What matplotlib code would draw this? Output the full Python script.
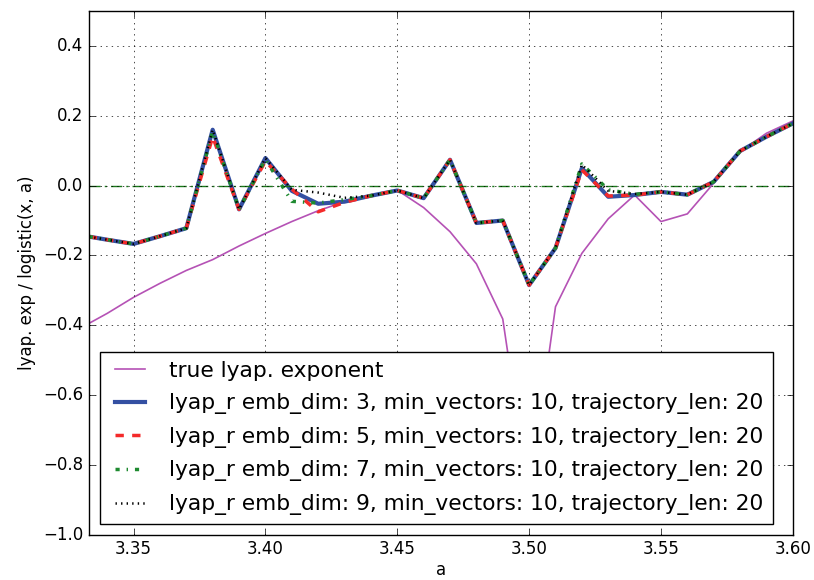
import numpy as np
from matplotlib import pyplot as plt

plt.style.use('classic')

# parameter values of the logistic map
a_vals = [3.333, 3.34, 3.35, 3.36, 3.37, 3.38, 3.39, 3.40, 3.41, 3.42, 3.43, 3.44,
          3.45, 3.46, 3.47, 3.48, 3.49, 3.50, 3.51, 3.52, 3.53, 3.54, 3.55, 3.56,
          3.57, 3.58, 3.59, 3.60]

true_lyap = [-0.395, -0.366, -0.320, -0.280, -0.243, -0.212, -0.173, -0.137, -0.103, -0.072,
             -0.046, -0.028, -0.013, -0.063, -0.132, -0.224, -0.382, -0.890, -0.347, -0.194,
             -0.095, -0.027, -0.103, -0.081, 0.007, 0.097, 0.150, 0.185]

lyap_dim3 = [-0.146, -0.155, -0.167, -0.145, -0.122, 0.160, -0.068, 0.079, -0.015, -0.052,
             -0.046, -0.029, -0.014, -0.036, 0.074, -0.107, -0.100, -0.285, -0.179, 0.050,
             -0.032, -0.027, -0.018, -0.026, 0.011, 0.099, 0.140, 0.178]

lyap_dim5 = [-0.146, -0.155, -0.167, -0.145, -0.122, 0.140, -0.068, 0.070, -0.010, -0.075,
             -0.048, -0.029, -0.014, -0.036, 0.074, -0.107, -0.100, -0.285, -0.179, 0.045,
             -0.030, -0.027, -0.018, -0.026, 0.011, 0.099, 0.140, 0.178]

lyap_dim7 = [-0.146, -0.155, -0.167, -0.145, -0.122, 0.155, -0.068, 0.075, -0.045, -0.050,
             -0.040, -0.029, -0.014, -0.036, 0.074, -0.107, -0.100, -0.285, -0.179, 0.062,
             -0.012, -0.025, -0.018, -0.026, 0.011, 0.099, 0.140, 0.178]

lyap_dim9 = [-0.146, -0.155, -0.167, -0.145, -0.122, 0.160, -0.068, 0.079, -0.012, -0.020,
             -0.035, -0.029, -0.014, -0.036, 0.074, -0.107, -0.100, -0.285, -0.179, 0.060,
             -0.015, -0.024, -0.018, -0.026, 0.011, 0.099, 0.140, 0.178]

emb_dims = [3, 5, 7, 9]
min_vectors = 10
trajectory_len = 20

fig = plt.figure(figsize=(8.14, 5.8), dpi=100, facecolor='white')
ax = fig.add_axes([0.109, 0.078, 0.865, 0.903])
ax.grid(True)

ax.plot(a_vals, true_lyap, '-', color='#b552b5', lw=1.2, label='true lyap. exponent')
styles = [('-', '#3450a2', 3.0), ('--', '#f42a2a', 2.5),
          ('-.', '#1e8a30', 2.5), (':', 'k', 1.8)]
for dim, series, (ls, col, lw) in zip(emb_dims, [lyap_dim3, lyap_dim5, lyap_dim7, lyap_dim9], styles):
    label = 'lyap_r emb_dim: %d, min_vectors: %d, trajectory_len: %d' % (dim, min_vectors, trajectory_len)
    ax.plot(a_vals, series, ls, color=col, lw=lw, label=label)
ax.axhline(0, color='#1a7a1a', lw=1, dashes=(8, 3, 1.5, 3))

ax.set_xlim(a_vals[0], a_vals[-1])
ax.set_ylim(-1.0, 0.5)
ax.set_xticks([3.35, 3.40, 3.45, 3.50, 3.55, 3.60])
ax.set_yticks(np.arange(-1.0, 0.41, 0.2))
ax.set_xlabel('a', labelpad=2)
ax.set_ylabel('lyap. exp / logistic(x, a)')
ax.legend(loc='lower left', fontsize=15.7, labelspacing=0.58)

plt.savefig('out.png', dpi=100, facecolor='white')
